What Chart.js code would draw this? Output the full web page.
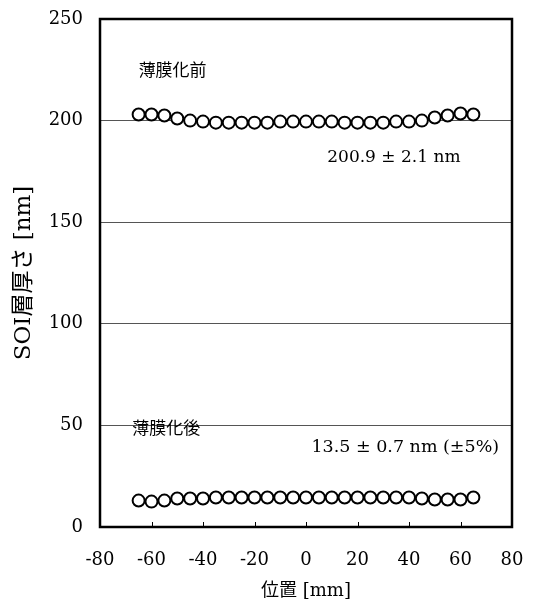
<!DOCTYPE html>
<html>
<head>
<meta charset="utf-8">
<script src="https://cdn.jsdelivr.net/npm/chart.js@4/dist/chart.umd.min.js"></script>
<style>
  html, body { margin: 0; padding: 0; background: #fff; }
  #wrap { width: 535px; height: 606px; }
</style>
</head>
<body>
<div id="wrap"><canvas id="chart" width="535" height="606"></canvas></div>
<script>
// positions along the wafer [mm]
const positions = [-65, -60, -55, -50, -45, -40, -35, -30, -25, -20, -15, -10, -5, 0,
                   5, 10, 15, 20, 25, 30, 35, 40, 45, 50, 55, 60, 65];
// SOI thickness before thinning [nm]
const beforeThin = [203, 203, 202.5, 201, 200, 199.5, 199, 199, 199, 199, 199, 199.5, 199.5, 199.5,
                    199.5, 199.5, 199, 199, 199, 199, 199.5, 199.5, 200, 201.5, 202.5, 203.5, 203];
// SOI thickness after thinning [nm]
const afterThin = [13, 12.5, 13, 14, 14, 14, 14.5, 14.5, 14.5, 14.5, 14.5, 14.5, 14.5, 14.5,
                   14.5, 14.5, 14.5, 14.5, 14.5, 14.5, 14.5, 14.5, 14, 13.5, 13.5, 13.5, 14.5];
const xTicks = [-80, -60, -40, -20, 0, 20, 40, 60, 80];
const yTicks = [0, 50, 100, 150, 200, 250];

const serif = "'DejaVu Serif', 'Liberation Serif', serif";
const jp = "'Noto Sans CJK JP', sans-serif";
const mixed = "'DejaVu Serif', 'Noto Sans CJK JP', serif";

// annotations placed in data coordinates
const notes = [
    { text: '薄膜化前', x: -65, y: 225, font: '17px ' + jp, align: 'left' },
    { text: '200.9 ± 2.1 nm', x: 60, y: 182, font: '17px ' + serif, align: 'right' },
    { text: '薄膜化後', x: -67.5, y: 49, font: '17px ' + jp, align: 'left' },
    { text: '13.5 ± 0.7 nm (±5%)', x: 75, y: 39, font: '17.5px ' + serif, align: 'right' }
];

const frame = {
    id: 'frame',
    afterDatasetsDraw(chart) {
        const { ctx, chartArea: a, scales } = chart;
        ctx.save();
        // small inward ticks on the x axis
        ctx.strokeStyle = '#000';
        ctx.lineWidth = 1;
        xTicks.forEach(v => {
            const px = Math.round(scales.x.getPixelForValue(v)) + 0.5;
            ctx.beginPath();
            ctx.moveTo(px, a.bottom);
            ctx.lineTo(px, a.bottom - 5);
            ctx.stroke();
        });
        ctx.lineWidth = 2.5;
        ctx.strokeRect(a.left, a.top, a.right - a.left, a.bottom - a.top);
        ctx.fillStyle = '#000';
        ctx.textBaseline = 'middle';
        notes.forEach(n => {
            ctx.font = n.font;
            ctx.textAlign = n.align;
            ctx.fillText(n.text, scales.x.getPixelForValue(n.x), scales.y.getPixelForValue(n.y));
        });
        ctx.restore();
    }
};

const pointStyle = {
    showLine: false,
    pointRadius: 6,
    pointBorderWidth: 2,
    pointBorderColor: '#000',
    pointBackgroundColor: '#fff',
    pointHoverRadius: 6
};

new Chart(document.getElementById('chart'), {
    type: 'scatter',
    data: {
        datasets: [
            Object.assign({ label: '薄膜化前', data: positions.map((x, i) => ({ x: x, y: beforeThin[i] })) }, pointStyle),
            Object.assign({ label: '薄膜化後', data: positions.map((x, i) => ({ x: x, y: afterThin[i] })) }, pointStyle)
        ]
    },
    options: {
        responsive: false,
        animation: false,
        layout: { padding: { top: 19, right: 23, left: 0, bottom: 0 } },
        plugins: { legend: { display: false }, tooltip: { enabled: false } },
        scales: {
            x: {
                type: 'linear',
                min: -80,
                max: 80,
                afterBuildTicks: s => { s.ticks = xTicks.map(v => ({ value: v })); },
                afterFit: s => { s.height = 79; s.paddingLeft = 0; s.paddingRight = 0; },
                grid: { display: false, drawTicks: false },
                border: { display: false },
                ticks: {
                    color: '#000',
                    padding: 23,
                    maxRotation: 0,
                    font: { family: serif, size: 18 }
                },
                title: {
                    display: true,
                    text: '位置 [mm]',
                    color: '#000',
                    padding: { top: 2 },
                    font: { family: mixed, size: 18 }
                }
            },
            y: {
                min: 0,
                max: 250,
                afterBuildTicks: s => { s.ticks = yTicks.map(v => ({ value: v })); },
                afterFit: s => { s.width = 100; s.paddingTop = 0; s.paddingBottom = 0; },
                grid: {
                    drawTicks: false,
                    lineWidth: 1,
                    color: c => (c.tick && (c.tick.value === 0 || c.tick.value === 250)) ? 'rgba(0,0,0,0)' : '#555'
                },
                border: { display: false },
                ticks: {
                    color: '#000',
                    padding: 17,
                    font: { family: serif, size: 18 }
                },
                title: {
                    display: true,
                    text: 'SOI層厚さ [nm]',
                    color: '#000',
                    padding: { top: 10, bottom: 0 },
                    font: { family: mixed, size: 23 }
                }
            }
        }
    },
    plugins: [frame]
});
</script>
</body>
</html>
